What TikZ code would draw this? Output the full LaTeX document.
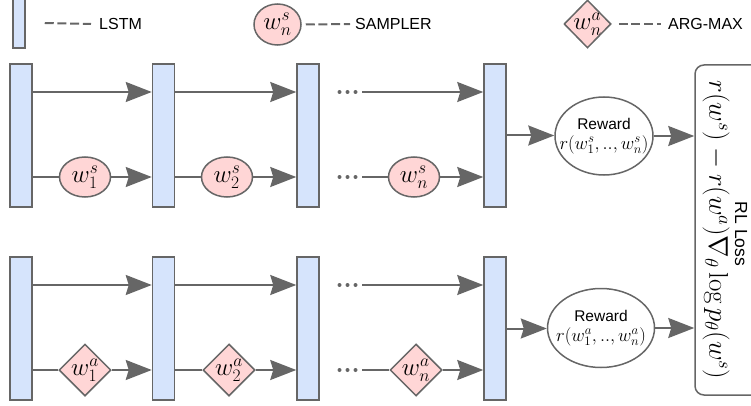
\RequirePackage{fix-cm}
\documentclass[tikz,border=0pt]{standalone}
\usepackage[no-math]{fontspec}
\setmainfont{Liberation Sans}
\usetikzlibrary{arrows.meta,shapes.geometric}
\definecolor{lg}{HTML}{666666}
\definecolor{lstmfill}{HTML}{D6E4FC}
\definecolor{pinkfill}{HTML}{FFD6D6}
\begin{document}
\begin{tikzpicture}[x=1pt,y=-1pt,
  lstm/.style={draw=lg, line width=1.5pt, fill=lstmfill, rectangle, minimum width=22pt, minimum height=143pt, inner sep=0pt},
  samp/.style={draw=lg, line width=1.5pt, fill=pinkfill, ellipse, minimum width=51pt, minimum height=40pt, inner sep=-10pt, font=\fontsize{25}{25}\selectfont},
  amax/.style={draw=lg, line width=1.5pt, fill=pinkfill, diamond, minimum width=52pt, minimum height=52pt, inner sep=-14pt, font=\fontsize{25}{25}\selectfont},
  reward/.style={draw=lg, line width=1.5pt, fill=white, ellipse, inner sep=-25pt, align=center, font=\fontsize{15.5}{20}\selectfont},
  lossbox/.style={draw=lg, line width=1.5pt, rounded corners=9pt, rectangle, minimum width=95pt, minimum height=330pt, inner sep=0pt},
  lbl/.style={inner sep=0pt, font=\fontsize{16}{16}\selectfont},
  arr/.style={draw=lg, line width=2pt, -{Stealth[length=26pt,width=20pt,inset=3pt]}},
  ln/.style={draw=lg, line width=2pt},
  leg/.style={draw=lg, line width=2pt, dash pattern=on 9pt off 3.7pt},
  dotc/.style={fill=lg}
]
\useasboundingbox (0,0) rectangle (751,406);

% ---------- legend ----------
\node[lstm, minimum width=12pt, minimum height=50pt] (lgB) at (19,23) {};
\node[lbl, anchor=west] (lgBt) at (99,24) {LSTM};
\draw[leg] ([xshift=19pt]lgB.east) -- ([xshift=-8pt]lgBt.west);

\node[samp, minimum width=47pt, minimum height=41pt] (lgS) at (277.5,24.5) {$w_n^s$};
\node[lbl, anchor=west] (lgSt) at (355,24) {SAMPLER};
\draw[leg] ([xshift=4pt]lgS.east) -- ([xshift=-5pt]lgSt.west);

\node[amax, minimum width=47pt, minimum height=48pt] (lgA) at (587.5,24) {$w_n^a$};
\node[lbl, anchor=west] (lgAt) at (668,24) {ARG-MAX};
\draw[leg] ([xshift=7pt]lgA.east) -- ([xshift=-7pt]lgAt.west);

% ---------- loss box ----------
\node[lossbox] (loss) at (742.5,230) {};
\node[rotate=-90, inner sep=0pt, font=\fontsize{27}{30}\selectfont] (lm) at (716,230) {$r(w^s) - r(w^a)\nabla_\theta \log p_\theta(w^s)$};
\node[rotate=-90, inner sep=0pt, font=\fontsize{17.5}{17.5}\selectfont] (lt) at (741,234) {RL Loss};

% ---------- sampler block ----------
\node[lstm] (ta) at (21,135.5) {};
\node[lstm] (tb) at (163.5,135.5) {};
\node[lstm] (tc) at (308,135.5) {};
\node[lstm] (td) at (495,135.5) {};
\coordinate (rowT) at (0,92);
\draw[arr] (ta.east |- rowT) -- (tb.west |- rowT);
\draw[arr] (tb.east |- rowT) -- (tc.west |- rowT);
\foreach \x in {339.5,347.5,355.5} \fill[dotc] (\x,92) circle (2pt);
\coordinate (dT) at (362,92);
\draw[arr] (dT) -- (td.west |- dT);

\node[samp] (s1) at (85,177) {$w_1^s$};
\node[samp] (s2) at (227,177) {$w_2^s$};
\node[samp] (sn) at (414,177) {$w_n^s$};
\draw[ln] (ta.east |- s1) -- (s1.west);
\draw[arr] (s1.east) -- (tb.west |- s1);
\draw[ln] (tb.east |- s2) -- (s2.west);
\draw[arr] (s2.east) -- (tc.west |- s2);
\foreach \x in {339.5,347.5,355.5} \fill[dotc] (\x,177) circle (2pt);
\coordinate (dTs) at (362,177);
\draw[ln] (dTs) -- (sn.west);
\draw[arr] (sn.east) -- (td.west |- sn);

\node[reward, minimum width=98pt, minimum height=78pt] (r1) at (604,136) {Reward\\{\fontsize{18.5}{18.5}\selectfont$r(w_1^s,..,w_n^s)$}};
\draw[arr] (td.east) -- (td.east -| r1.west);
\draw[arr] (r1.east) -- (r1.east -| loss.west);

% ---------- argmax block ----------
\node[lstm] (ba) at (21,328.5) {};
\node[lstm] (bb) at (163.5,328.5) {};
\node[lstm] (bc) at (308,328.5) {};
\node[lstm] (bd) at (495,328.5) {};
\coordinate (rowT2) at (0,285);
\draw[arr] (ba.east |- rowT2) -- (bb.west |- rowT2);
\draw[arr] (bb.east |- rowT2) -- (bc.west |- rowT2);
\foreach \x in {339.5,347.5,355.5} \fill[dotc] (\x,285) circle (2pt);
\coordinate (dB) at (362,285);
\draw[arr] (dB) -- (bd.west |- dB);

\node[amax] (a1) at (85,370) {$w_1^a$};
\node[amax] (a2) at (229,370) {$w_2^a$};
\node[amax] (an) at (416,370) {$w_n^a$};
\draw[ln] (ba.east |- a1) -- (a1.west);
\draw[arr] (a1.east) -- (bb.west |- a1);
\draw[ln] (bb.east |- a2) -- (a2.west);
\draw[arr] (a2.east) -- (bc.west |- a2);
\foreach \x in {339.5,347.5,355.5} \fill[dotc] (\x,370) circle (2pt);
\coordinate (dBs) at (362,370);
\draw[ln] (dBs) -- (an.west);
\draw[arr] (an.east) -- (bd.west |- an);

\node[reward, minimum width=107pt, minimum height=79pt] (r2) at (601,328) {Reward\\{\fontsize{18.5}{18.5}\selectfont$r(w_1^a,..,w_n^a)$}};
\draw[arr] (bd.east) -- (bd.east -| r2.west);
\draw[arr] (r2.east) -- (r2.east -| loss.west);
\end{tikzpicture}
\end{document}
